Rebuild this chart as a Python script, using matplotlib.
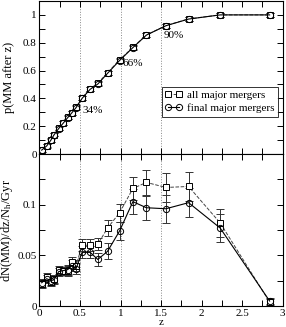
import numpy as np
import matplotlib
matplotlib.use("Agg")
import matplotlib.pyplot as plt
from matplotlib.ticker import MultipleLocator
from matplotlib.lines import Line2D

plt.rcParams['font.family'] = ['Liberation Serif', 'DejaVu Serif']
plt.rcParams['mathtext.fontset'] = 'custom'
plt.rcParams['mathtext.rm'] = 'Liberation Serif'
plt.rcParams['mathtext.it'] = 'Liberation Serif:italic'

# redshift bins
z = [0.027, 0.089, 0.139, 0.18, 0.237, 0.295, 0.349, 0.398, 0.452, 0.526,
     0.625, 0.72, 0.84, 0.988, 1.153, 1.32, 1.56, 1.84, 2.23, 2.84]

# cumulative probability of a major merger after z
p_all = [0.03, 0.06, 0.10, 0.14, 0.185, 0.225, 0.264, 0.297, 0.336, 0.405,
         0.47, 0.508, 0.585, 0.676, 0.767, 0.856, 0.923, 0.971, 1.0, 1.0]
p_all_err = [0.012, 0.012, 0.012, 0.012, 0.013, 0.013, 0.013, 0.013, 0.013, 0.014,
             0.014, 0.014, 0.014, 0.014, 0.014, 0.014, 0.014, 0.014, 0.014, 0.014]
p_final = [0.028, 0.058, 0.098, 0.138, 0.183, 0.223, 0.262, 0.295, 0.334, 0.400,
           0.465, 0.503, 0.580, 0.672, 0.765, 0.855, 0.922, 0.970, 1.0, 1.0]
p_final_err = p_all_err

# merger rate per halo per Gyr
rate_all = [0.022, 0.029, 0.024, 0.027, 0.036, 0.035, 0.035, 0.043, 0.040, 0.060,
            0.060, 0.061, 0.077, 0.092, 0.116, 0.122, 0.117, 0.118, 0.082, 0.004]
rate_all_err = [0.004, 0.004, 0.004, 0.004, 0.004, 0.004, 0.005, 0.005, 0.005, 0.006,
                0.006, 0.006, 0.008, 0.009, 0.011, 0.012, 0.014, 0.014, 0.014, 0.003]
rate_final = [0.023, 0.027, 0.025, 0.026, 0.034, 0.035, 0.036, 0.040, 0.037, 0.053,
              0.053, 0.046, 0.054, 0.074, 0.103, 0.097, 0.096, 0.102, 0.077, 0.005]
rate_final_err = [0.004, 0.004, 0.004, 0.004, 0.004, 0.004, 0.005, 0.005, 0.005, 0.006,
                  0.006, 0.006, 0.008, 0.009, 0.012, 0.012, 0.014, 0.014, 0.014, 0.003]

marks = [0.5, 1.0, 1.5]
mark_labels = ["34%", "66%", "90%"]
mark_y = [0.31, 0.65, 0.855]

fig = plt.figure(figsize=(2.86, 3.27), dpi=100)
ax1 = fig.add_axes([0.138, 0.529, 0.850, 0.468])
ax2 = fig.add_axes([0.138, 0.064, 0.850, 0.465])

sq = dict(marker='s', ms=5, mfc='white', mec='black', mew=0.7,
          color='#444444', lw=0.7, ls='--')
ci = dict(marker='o', ms=4.5, mfc='none', mec='black', mew=0.7,
          color='black', lw=0.8, ls='-')
eb = dict(capsize=3, elinewidth=0.7, capthick=0.7, ecolor='#333333')

for ax in (ax1, ax2):
    for m in marks:
        ax.axvline(m, color='#888888', ls=':', lw=0.7, zorder=0)

ax1.errorbar(z, p_all, yerr=p_all_err, **sq, **eb)
ax1.errorbar(z, p_final, yerr=p_final_err, **ci, **eb)
for m, lab, yy in zip(marks, mark_labels, mark_y):
    ax1.text(m + 0.03, yy, lab, fontsize=8, va='center', ha='left')

ax2.errorbar(z, rate_all, yerr=rate_all_err, **sq, **eb)
ax2.errorbar(z, rate_final, yerr=rate_final_err, **ci, **eb)

ax1.set_xlim(0, 3)
ax1.set_ylim(0, 1.1)
ax2.set_xlim(0, 3)
ax2.set_ylim(0, 0.15)

ax1.yaxis.set_minor_locator(MultipleLocator(0.1))
ax2.yaxis.set_minor_locator(MultipleLocator(0.025))
ax1.set_yticks([0, 0.2, 0.4, 0.6, 0.8, 1.0])
ax1.set_yticklabels(['0', '0.2', '0.4', '0.6', '0.8', '1'])
ax2.set_yticks([0, 0.05, 0.1])
ax2.set_yticklabels(['0', '0.05', '0.1'])
for ax in (ax1, ax2):
    ax.xaxis.set_major_locator(MultipleLocator(0.5))
    ax.xaxis.set_minor_locator(MultipleLocator(0.25))
    ax.tick_params(which='both', direction='in', top=True, right=True,
                   labelsize=8, width=0.7, length=4)
    ax.tick_params(axis='y', pad=2)
    for s in ax.spines.values():
        s.set_linewidth(0.8)
ax1.tick_params(labelbottom=False)
ax2.set_xticks([0, 0.5, 1, 1.5, 2, 2.5, 3])
ax2.set_xticklabels(['0', '0.5', '1', '1.5', '2', '2.5', '3'])
ax2.tick_params(axis='x', pad=2)

ax1.set_ylabel('p(MM after z)', fontsize=9)
ax2.set_ylabel('dN(MM)/dz/N$_\\mathrm{h}$/Gyr', fontsize=9)
ax1.yaxis.set_label_coords(-0.1, 0.5)
ax2.yaxis.set_label_coords(-0.1, 0.5)
fig.text(161 / 286, 0.0, 'z', fontsize=8, ha='center', va='bottom')

handles = [Line2D([], [], **sq), Line2D([], [], **ci)]
leg = ax1.legend(handles, ['all major mergers', 'final major mergers'],
                 loc='lower right', bbox_to_anchor=(0.99, 0.23), fontsize=8,
                 numpoints=2, frameon=True, fancybox=False, edgecolor='black',
                 handlelength=1.6, handletextpad=0.4, borderpad=0.3,
                 labelspacing=0.3, borderaxespad=0.2)
leg.get_frame().set_linewidth(0.7)

fig.savefig('out.png', dpi=100)
